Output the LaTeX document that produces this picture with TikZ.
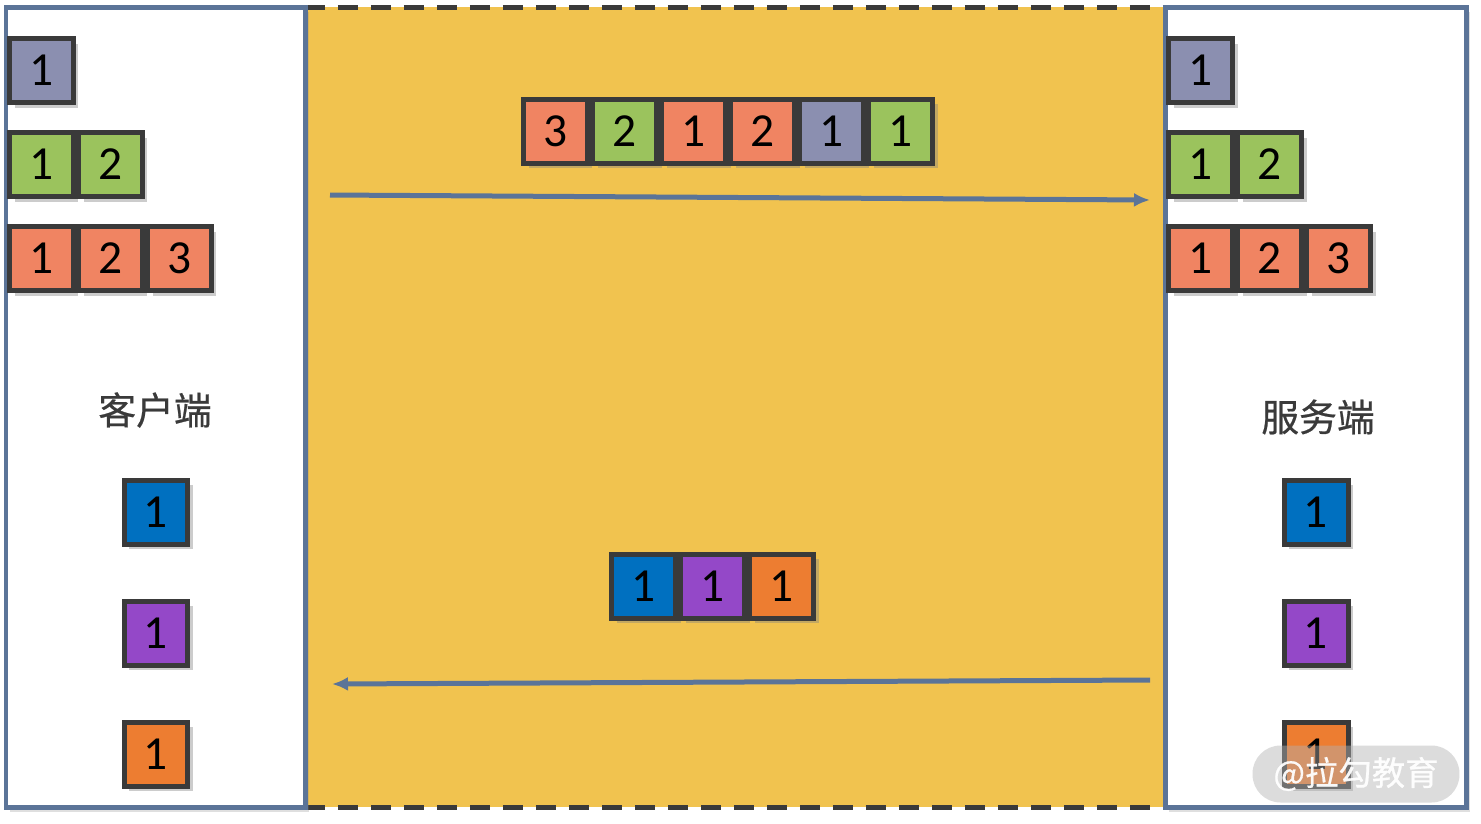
\documentclass[tikz,border=0pt]{standalone}
\usepackage{fontspec}
\setmainfont{Carlito}
\newfontfamily\cjkfont[FakeBold=0.6]{Noto Sans CJK SC}
\usetikzlibrary{shadows,arrows.meta}

\definecolor{panelblue}{HTML}{5B7498}
\definecolor{gold}{HTML}{F1C34F}
\definecolor{boxedge}{HTML}{3A3A3A}
\definecolor{pgray}{HTML}{8B8FB0}
\definecolor{pgreen}{HTML}{9BC35D}
\definecolor{psalmon}{HTML}{F08462}
\definecolor{pblue}{HTML}{0070C0}
\definecolor{ppurple}{HTML}{9448C8}
\definecolor{porange}{HTML}{ED7D31}

\tikzset{
  pkt/.style={draw=boxedge, line width=0.1cm, minimum size=1.28cm, inner sep=0pt,
    font=\fontsize{27}{27}\selectfont,
    drop shadow={opacity=0.4, shadow xshift=0.1cm, shadow yshift=-0.1cm}},
  panel/.style={draw=panelblue, fill=white, line width=0.1cm,
    drop shadow={opacity=0.25, shadow xshift=0.08cm, shadow yshift=-0.1cm}},
  wire/.style={-{Latex[length=0.32cm, width=0.28cm]}, panelblue, line width=0.1cm},
  side/.style={text=boxedge, font=\cjkfont\fontsize{21.5}{21.5}\selectfont},
}

\begin{document}
\begin{tikzpicture}[x=0.02cm, y=-0.02cm]
    \useasboundingbox (0, 0) rectangle (1481, 823);
    \fill[gold] (305, 7) rectangle (1165, 807);
    \draw[boxedge, line width=0.1cm, dash pattern=on 0.4cm off 0.26cm] (305, 7) -- (1165, 7);
    \draw[boxedge, line width=0.1cm, dash pattern=on 0.4cm off 0.26cm] (305, 807) -- (1165, 807);
    \draw[panel] (6, 7) rectangle (305, 807);
    \draw[panel] (1165, 7) rectangle (1466, 807);

    \node[side] (client) at (155, 410) {客户端};
    \node[side] (server) at (1318, 417) {服务端};

    \node[pkt, fill=pgray] (cli1) at (41.5, 70.5) {1};
    \node[pkt, fill=pgreen] (cli2a) at (41.5, 164.5) {1};
    \node[pkt, fill=pgreen] (cli2b) at (110.5, 164.5) {2};
    \node[pkt, fill=psalmon] (cli3a) at (41.5, 258.5) {1};
    \node[pkt, fill=psalmon] (cli3b) at (110.5, 258.5) {2};
    \node[pkt, fill=psalmon] (cli3c) at (179.5, 258.5) {3};

    \node[pkt, fill=pgray] (srv1) at (1200.5, 70.5) {1};
    \node[pkt, fill=pgreen] (srv2a) at (1200.5, 164.5) {1};
    \node[pkt, fill=pgreen] (srv2b) at (1269.5, 164.5) {2};
    \node[pkt, fill=psalmon] (srv3a) at (1200.5, 258.5) {1};
    \node[pkt, fill=psalmon] (srv3b) at (1269.5, 258.5) {2};
    \node[pkt, fill=psalmon] (srv3c) at (1338.5, 258.5) {3};

    \node[pkt, fill=psalmon] (up1) at (555.5, 131) {3};
    \node[pkt, fill=pgreen] (up2) at (624.5, 131) {2};
    \node[pkt, fill=psalmon] (up3) at (693.5, 131) {1};
    \node[pkt, fill=psalmon] (up4) at (762.5, 131) {2};
    \node[pkt, fill=pgray] (up5) at (831.5, 131) {1};
    \node[pkt, fill=pgreen] (up6) at (900.5, 131) {1};

    \node[pkt, fill=pblue] (down1) at (643.5, 586) {1};
    \node[pkt, fill=ppurple] (down2) at (712.5, 586) {1};
    \node[pkt, fill=porange] (down3) at (781.5, 586) {1};

    \node[pkt, fill=pblue] (cliB) at (156, 512) {1};
    \node[pkt, fill=ppurple] (cliP) at (156, 633) {1};
    \node[pkt, fill=porange] (cliO) at (156, 754) {1};

    \node[pkt, fill=pblue] (srvB) at (1316, 512) {1};
    \node[pkt, fill=ppurple] (srvP) at (1316, 633) {1};
    \node[pkt, fill=porange] (srvO) at (1316, 754) {1};

    \coordinate (sendA) at (330, 195);
    \coordinate (sendB) at (1150, 200);
    \coordinate (backA) at (1150, 680);
    \coordinate (backB) at (332, 684);
    \draw[wire] (sendA) -- (sendB);
    \draw[wire] (backA) -- (backB);

    \node[fill=black!30, fill opacity=0.45, text=white, text opacity=0.95,
      rounded corners=0.56cm, minimum width=4.14cm, minimum height=1.14cm,
      font=\cjkfont\fontsize{19}{19}\selectfont] (mark) at (1356, 774) {@拉勾教育};
  \end{tikzpicture}
\end{document}
